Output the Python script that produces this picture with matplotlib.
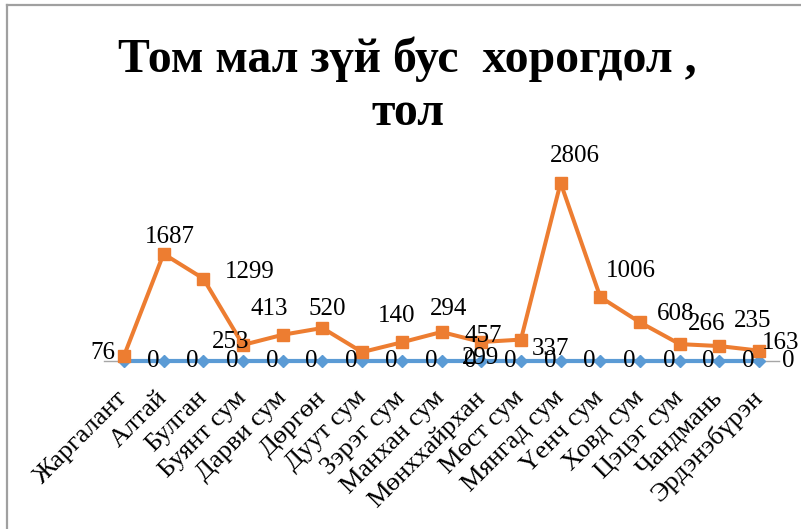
import matplotlib
matplotlib.use('Agg')
import matplotlib.pyplot as plt
from matplotlib.lines import Line2D

categories = ['Жаргалант', 'Алтай', 'Булган', 'Буянт сум', 'Дарви сум', 'Дөргөн',
              'Дуут сум', 'Зэрэг сум', 'Манхан сум', 'Мөнххайрхан', 'Мөст сум',
              'Мянгад сум', 'Үенч сум', 'Ховд сум', 'Цэцэг сум', 'Чандмань', 'Эрдэнэбүрэн']
losses = [76, 1687, 1299, 253, 413, 520, 140, 294, 457, 299, 337, 2806, 1006, 608, 266, 235, 163]
zeros = [0, 0, 0, 0, 0, 0, 0, 0, 0, 0, 0, 0, 0, 0, 0, 0, 0]
title_line1 = 'Том мал зүй бус  хорогдол ,'
title_line2 = 'тол'

# label offsets (pixels) of orange data labels, set by hand like the original
orange_offsets = [(-21, 3), (6, 17), (46, 7), (-12, 3), (-13, 26), (5, 19), (35, 36),
                  (47, 33), (42, -4), (-1, -16), (30, -9), (14, 27), (31, 26), (36, 8),
                  (27, 20), (33, 25), (21, 8)]
blue_offset = (29, 0)

W, H = 801, 529
fig = plt.figure(figsize=(W / 100, H / 100), dpi=100)
serif = ['Liberation Serif', 'DejaVu Serif']

ax = fig.add_axes([104 / W, (H - 361) / H, 675 / W, 190.5 / H])
x = list(range(len(categories)))

blue = '#5B9BD5'
orange = '#ED7D31'
ax.plot(x, zeros, color=blue, lw=3.0, marker='D', ms=6.2, zorder=3, clip_on=False)
ax.plot(x, losses, color=orange, lw=2.9, marker='s', ms=8.6, zorder=4, clip_on=False)

ax.set_xlim(-0.5, len(categories) - 0.5)
ax.set_ylim(0, 3000)
for s in ['top', 'right', 'left']:
    ax.spines[s].set_visible(False)
ax.spines['bottom'].set_color('#A6A6A6')
ax.spines['bottom'].set_linewidth(1.0)
ax.spines['bottom'].set_zorder(1)
ax.set_yticks([])
ax.set_xticks(x)
ax.set_xticklabels(categories, rotation=45, ha='right', va='center',
                   rotation_mode='anchor', fontsize=19, family=serif)
ax.tick_params(axis='x', length=0, pad=24)

for i, v in enumerate(losses):
    dx, dy = orange_offsets[i]
    ax.annotate(str(v), (i, v), xytext=(dx, dy), textcoords='offset pixels',
                ha='center', va='center', fontsize=18, family=serif, color='black',
                zorder=6, annotation_clip=False)
for i, v in enumerate(zeros):
    ax.annotate(str(v), (i, v), xytext=blue_offset, textcoords='offset pixels',
                ha='center', va='center', fontsize=18, family=serif, color='black',
                zorder=5, annotation_clip=False)

# chart frame (top and left border)
fig.add_artist(Line2D([7 / W, 1.0], [1 - 5 / H, 1 - 5 / H], color='#A0A0A0', lw=1.6))
fig.add_artist(Line2D([7 / W, 7 / W], [0, 1 - 5 / H], color='#A0A0A0', lw=1.6))

# title, font size fitted to the reference width
t1 = fig.text(407.5 / W, 1 - 72 / H, title_line1, ha='center', va='baseline',
              fontsize=34, fontweight='bold', family=serif)
fig.canvas.draw()
bb = t1.get_window_extent()
size = 34 * 579 / bb.width
t1.set_fontsize(size)
fig.text(408 / W, 1 - 125 / H, title_line2, ha='center', va='baseline',
         fontsize=size, fontweight='bold', family=serif)

fig.savefig('out.png', dpi=100)
